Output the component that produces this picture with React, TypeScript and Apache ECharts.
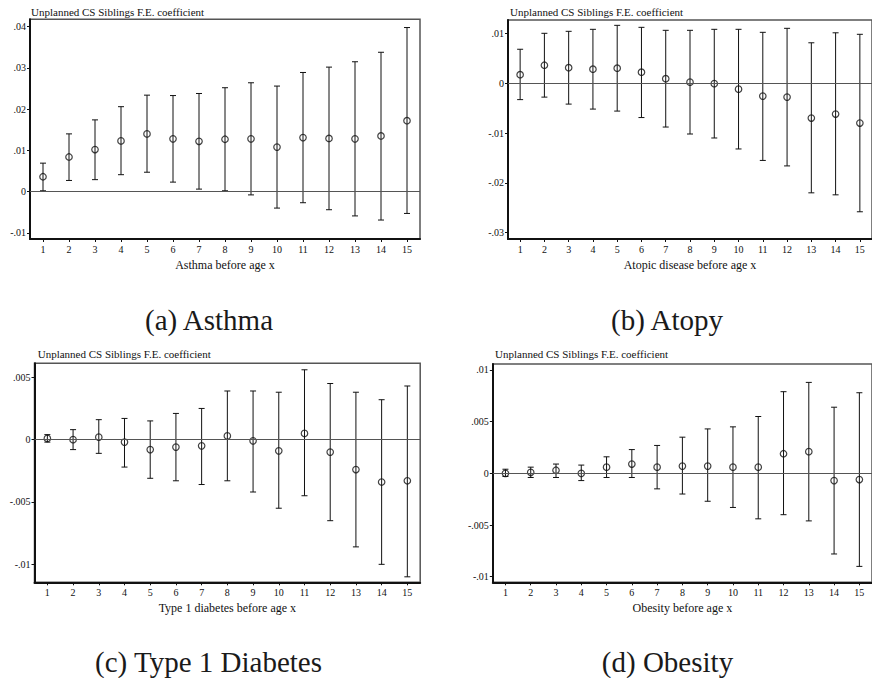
import React, { useEffect, useRef } from "react";
import * as echarts from "echarts";

const categories = ["1","2","3","4","5","6","7","8","9","10","11","12","13","14","15"];

const asthmaCoef = [0.0036, 0.0084, 0.0102, 0.0123, 0.0140, 0.0128, 0.0122, 0.0127, 0.0128, 0.0108, 0.0131, 0.0129, 0.0128, 0.0135, 0.0172];
const asthmaLower = [0.0002, 0.0027, 0.0029, 0.0041, 0.0047, 0.0023, 0.0006, 0.0002, -0.0008, -0.0040, -0.0027, -0.0044, -0.0059, -0.0069, -0.0053];
const asthmaUpper = [0.0069, 0.0140, 0.0174, 0.0206, 0.0234, 0.0233, 0.0238, 0.0252, 0.0264, 0.0256, 0.0289, 0.0302, 0.0315, 0.0338, 0.0398];

const atopyCoef = [0.0017, 0.0036, 0.0031, 0.0028, 0.0030, 0.0022, 0.0009, 0.0002, -0.0001, -0.0012, -0.0026, -0.0028, -0.0070, -0.0062, -0.0080];
const atopyLower = [-0.0033, -0.0028, -0.0042, -0.0052, -0.0056, -0.0069, -0.0088, -0.0102, -0.0110, -0.0132, -0.0155, -0.0166, -0.0220, -0.0224, -0.0258];
const atopyUpper = [0.0068, 0.0100, 0.0104, 0.0108, 0.0116, 0.0112, 0.0106, 0.0106, 0.0108, 0.0108, 0.0102, 0.0110, 0.0081, 0.0101, 0.0098];

const diabetesCoef = [0.0001, 0.0000, 0.0002, -0.0002, -0.0008, -0.0006, -0.0005, 0.0003, -0.0001, -0.0009, 0.0005, -0.0010, -0.0024, -0.0034, -0.0033];
const diabetesLower = [-0.0002, -0.0008, -0.0011, -0.0022, -0.0031, -0.0033, -0.0036, -0.0033, -0.0042, -0.0055, -0.0045, -0.0065, -0.0086, -0.0100, -0.0110];
const diabetesUpper = [0.0004, 0.0008, 0.0016, 0.0017, 0.0015, 0.0021, 0.0025, 0.0039, 0.0039, 0.0038, 0.0056, 0.0045, 0.0038, 0.0032, 0.0043];

const obesityCoef = [0.0000, 0.0001, 0.0003, 0.0000, 0.0006, 0.0009, 0.0006, 0.0007, 0.0007, 0.0006, 0.0006, 0.0019, 0.0021, -0.0007, -0.0006];
const obesityLower = [-0.0003, -0.0004, -0.0004, -0.0007, -0.0004, -0.0004, -0.0015, -0.0020, -0.0027, -0.0033, -0.0044, -0.0040, -0.0046, -0.0078, -0.0090];
const obesityUpper = [0.0004, 0.0006, 0.0009, 0.0008, 0.0016, 0.0023, 0.0027, 0.0035, 0.0043, 0.0045, 0.0055, 0.0079, 0.0088, 0.0064, 0.0078];

const asthmaTicks = [-0.01, 0, 0.01, 0.02, 0.03, 0.04];
const atopyTicks = [-0.03, -0.02, -0.01, 0, 0.01];
const diabetesTicks = [-0.01, -0.005, 0, 0.005];
const obesityTicks = [-0.01, -0.005, 0, 0.005, 0.01];

const panelHeader = "Unplanned CS Siblings F.E. coefficient";
const xNames = ["Asthma before age x", "Atopic disease before age x", "Type 1 diabetes before age x", "Obesity before age x"];
const captions = ["(a) Asthma", "(b) Atopy", "(c) Type 1 Diabetes", "(d) Obesity"];

const FONT = "Liberation Serif, Times New Roman, serif";
const INK = "#111";

function fmt(v: number): string {
  if (Math.abs(v) < 1e-12) return "0";
  return String(+v.toFixed(4)).replace("0.", ".");
}

export default function App() {
  const ref = useRef<HTMLDivElement>(null);
  useEffect(() => {
    if (!ref.current) return;
    const chart = echarts.init(ref.current, null, { renderer: "svg" });

    const panels = [
      { coef: asthmaCoef, lo: asthmaLower, hi: asthmaUpper, ticks: asthmaTicks, min: -0.0115, max: 0.0418,
        grid: { left: 30, top: 19.3, width: 390, height: 219.7 }, head: [31, 11.7], cap: [209, 320] },
      { coef: atopyCoef, lo: atopyLower, hi: atopyUpper, ticks: atopyTicks, min: -0.03126, max: 0.01267,
        grid: { left: 508, top: 20, width: 371, height: 219 }, head: [510, 11.7], cap: [667, 320] },
      { coef: diabetesCoef, lo: diabetesLower, hi: diabetesUpper, ticks: diabetesTicks, min: -0.01144, max: 0.00612,
        grid: { left: 34.5, top: 363.3, width: 385.7, height: 219 }, head: [37.7, 354.3], cap: [208.5, 662] },
      { coef: obesityCoef, lo: obesityLower, hi: obesityUpper, ticks: obesityTicks, min: -0.01054, max: 0.01058,
        grid: { left: 492.8, top: 364, width: 385.7, height: 218.3 }, head: [495, 354.3], cap: [667.5, 662] },
    ];

    const grid = panels.map((p) => ({
      ...p.grid,
      show: true,
      borderColor: "#555",
      borderWidth: 1.5,
      backgroundColor: "transparent",
      containLabel: false,
    }));

    const xAxis = panels.map((p, i) => ({
      type: "category",
      gridIndex: i,
      data: categories,
      boundaryGap: true,
      name: xNames[i],
      nameLocation: "middle",
      nameGap: 20,
      nameTextStyle: { fontFamily: FONT, fontSize: 12, color: INK, verticalAlign: "top" },
      axisLine: { show: true, onZero: false, lineStyle: { color: INK, width: 2 } },
      axisTick: { show: true, alignWithLabel: true, length: 3, lineStyle: { color: INK, width: 1 } },
      axisLabel: { fontFamily: FONT, fontSize: 10, color: INK, margin: 5, interval: 0 },
      splitLine: { show: false },
    }));

    const yAxis = panels.map((p, i) => ({
      type: "value",
      gridIndex: i,
      min: p.min,
      max: p.max,
      axisLine: { show: true, onZero: false, lineStyle: { color: INK, width: 2 } },
      axisTick: { show: true, length: 3, customValues: p.ticks, lineStyle: { color: INK, width: 1 } },
      axisLabel: { fontFamily: FONT, fontSize: 10, color: INK, margin: 4, customValues: p.ticks, formatter: (v: number) => fmt(v) },
      splitLine: { show: false },
    }));

    const series: any[] = [];
    panels.forEach((p, i) => {
      series.push({
        type: "custom",
        xAxisIndex: i,
        yAxisIndex: i,
        data: categories.map((_, k) => [k, p.lo[k], p.hi[k]]),
        renderItem: (params: any, api: any) => {
          const x = api.value(0);
          const top = api.coord([x, api.value(2)]);
          const bot = api.coord([x, api.value(1)]);
          const c = 3;
          const st = { stroke: INK, lineWidth: 1 };
          return {
            type: "group",
            children: [
              { type: "line", shape: { x1: top[0], y1: top[1], x2: bot[0], y2: bot[1] }, style: st },
              { type: "line", shape: { x1: top[0] - c, y1: top[1], x2: top[0] + c, y2: top[1] }, style: st },
              { type: "line", shape: { x1: bot[0] - c, y1: bot[1], x2: bot[0] + c, y2: bot[1] }, style: st },
            ],
          };
        },
        z: 2,
      });
      series.push({
        type: "scatter",
        xAxisIndex: i,
        yAxisIndex: i,
        data: p.coef,
        symbol: "circle",
        symbolSize: 6.5,
        itemStyle: { color: "rgba(255,255,255,0)", borderColor: INK, borderWidth: 1.2 },
        z: 3,
        markLine: {
          silent: true,
          symbol: "none",
          label: { show: false },
          lineStyle: { color: "#555", width: 1, type: "solid" },
          data: [{ yAxis: 0 }],
        },
      });
    });

    const graphic: any[] = [];
    panels.forEach((p, i) => {
      graphic.push({
        type: "text",
        x: p.head[0],
        y: p.head[1],
        style: { text: panelHeader, fontFamily: FONT, fontSize: 11, fill: INK, align: "left", verticalAlign: "middle" },
      });
      graphic.push({
        type: "text",
        x: p.cap[0],
        y: p.cap[1],
        style: { text: captions[i], fontFamily: FONT, fontSize: 29, fill: "#1a1a1a", align: "center", verticalAlign: "middle" },
      });
    });

    chart.setOption({
      animation: false,
      backgroundColor: "#fff",
      grid,
      xAxis,
      yAxis,
      series,
      graphic,
    });
    return () => chart.dispose();
  }, []);
  return <div ref={ref} style={{ position: "absolute", left: 0, top: 0, width: 872, height: 678 }} />;
}
